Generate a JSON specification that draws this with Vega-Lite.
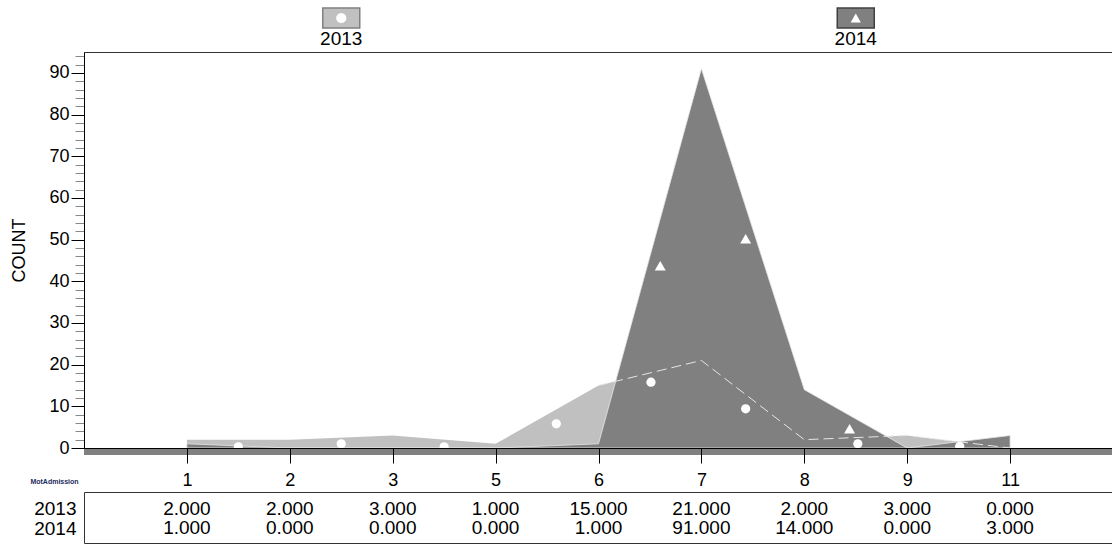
{
  "$schema": "https://vega.github.io/schema/vega-lite/v6.json",
  "padding": {"left": 10, "top": 0, "right": 0, "bottom": 0},
  "config": {
    "font": "Liberation Sans",
    "view": {"stroke": null},
    "axis": {"labelFont": "Liberation Sans", "titleFont": "Liberation Sans", "labelColor": "#000", "titleColor": "#000"},
    "text": {"font": "Liberation Sans"}
  },
  "datasets": {
    "counts": [
      {"pos": 1, "cat": "1", "year": "2013", "count": 2},
      {"pos": 2, "cat": "2", "year": "2013", "count": 2},
      {"pos": 3, "cat": "3", "year": "2013", "count": 3},
      {"pos": 4, "cat": "5", "year": "2013", "count": 1},
      {"pos": 5, "cat": "6", "year": "2013", "count": 15},
      {"pos": 6, "cat": "7", "year": "2013", "count": 21},
      {"pos": 7, "cat": "8", "year": "2013", "count": 2},
      {"pos": 8, "cat": "9", "year": "2013", "count": 3},
      {"pos": 9, "cat": "11", "year": "2013", "count": 0},
      {"pos": 1, "cat": "1", "year": "2014", "count": 1},
      {"pos": 2, "cat": "2", "year": "2014", "count": 0},
      {"pos": 3, "cat": "3", "year": "2014", "count": 0},
      {"pos": 4, "cat": "5", "year": "2014", "count": 0},
      {"pos": 5, "cat": "6", "year": "2014", "count": 1},
      {"pos": 6, "cat": "7", "year": "2014", "count": 91},
      {"pos": 7, "cat": "8", "year": "2014", "count": 14},
      {"pos": 8, "cat": "9", "year": "2014", "count": 0},
      {"pos": 9, "cat": "11", "year": "2014", "count": 3}
    ],
    "markers": [
      {"pos": 1.5, "year": "2013", "count": 0.3},
      {"pos": 2.5, "year": "2013", "count": 1},
      {"pos": 3.5, "year": "2013", "count": 0.3},
      {"pos": 4.59, "year": "2013", "count": 5.8},
      {"pos": 5.51, "year": "2013", "count": 15.8},
      {"pos": 6.43, "year": "2013", "count": 9.4},
      {"pos": 7.52, "year": "2013", "count": 1},
      {"pos": 8.51, "year": "2013", "count": 0.4},
      {"pos": 5.6, "year": "2014", "count": 43.7},
      {"pos": 6.43, "year": "2014", "count": 50.2},
      {"pos": 7.44, "year": "2014", "count": 4.6}
    ],
    "legend": [
      {"year": "2013"},
      {"year": "2014"}
    ]
  },
  "bounds": "flush",
  "spacing": 16,
  "vconcat": [
    {
      "width": 1029,
      "height": 36,
      "data": {"name": "legend"},
      "encoding": {
        "x": {"field": "year", "type": "nominal", "scale": {"type": "band", "domain": ["2013", "2014"], "paddingInner": 0, "paddingOuter": 0}, "axis": null}
      },
      "layer": [
        {
          "mark": {"type": "point", "shape": "M-1,-0.54H1V0.54H-1Z", "size": 1369, "filled": true, "strokeWidth": 1.5, "opacity": 1},
          "encoding": {
            "fill": {"field": "year", "type": "nominal", "scale": {"domain": ["2013", "2014"], "range": ["#c0c0c0", "#808080"]}, "legend": null},
            "stroke": {"field": "year", "type": "nominal", "scale": {"domain": ["2013", "2014"], "range": ["#808080", "#404040"]}, "legend": null}
          }
        },
        {
          "mark": {"type": "point", "filled": true, "color": "white", "size": 105, "opacity": 1},
          "encoding": {
            "shape": {"field": "year", "type": "nominal", "scale": {"domain": ["2013", "2014"], "range": ["circle", "triangle-up"]}, "legend": null}
          }
        },
        {
          "mark": {"type": "text", "dy": 21, "fontSize": 19, "baseline": "middle", "color": "#000"},
          "encoding": {"text": {"field": "year"}}
        }
      ]
    },
    {
      "bounds": "flush",
      "spacing": 44,
      "vconcat": [
        {
          "width": 1029,
          "height": 396,
          "view": {"stroke": "#333"},
          "data": {"name": "counts"},
          "layer": [
            {
              "transform": [{"filter": "datum.year === '2013'"}],
              "mark": {"type": "area", "color": "#c0c0c0", "opacity": 1},
              "encoding": {
                "x": {
                  "field": "pos", "type": "quantitative",
                  "scale": {"domain": [0, 10], "nice": false, "zero": false},
                  "axis": {
                    "values": [1, 2, 3, 4, 5, 6, 7, 8, 9],
                    "tickCount": 100,
                    "labelExpr": "['1','2','3','5','6','7','8','9','11'][datum.value - 1]",
                    "tickSize": 15, "tickColor": "#000", "domainColor": "#000",
                    "labelFontSize": 18, "labelPadding": 8, "labelFlush": false, "labelOverlap": false,
                    "grid": false,
                    "title": "MotAdmission", "titleFontSize": 7, "titleFontWeight": "bold", "titleColor": "#1c2b5c",
                    "titleX": -30, "titleY": 33, "titleAlign": "center", "titleBaseline": "middle",
                    "zindex": 1
                  }
                },
                "y": {
                  "field": "count", "type": "quantitative",
                  "scale": {"domain": [0, 95], "nice": false},
                  "axis": {
                    "values": [0, 2, 4, 6, 8, 10, 12, 14, 16, 18, 20, 22, 24, 26, 28, 30, 32, 34, 36, 38, 40, 42, 44, 46, 48, 50, 52, 54, 56, 58, 60, 62, 64, 66, 68, 70, 72, 74, 76, 78, 80, 82, 84, 86, 88, 90, 92, 94],
                    "tickCount": 100,
                    "labelExpr": "datum.value % 10 === 0 ? datum.label : ''",
                    "tickSize": {"condition": {"test": "datum.value % 10 === 0", "value": 13}, "value": 9},
                    "tickColor": {"condition": {"test": "datum.value % 10 === 0", "value": "#000"}, "value": "#888"},
                    "labelFontSize": 18, "labelPadding": 2, "labelOverlap": false, "labelFlush": false,
                    "title": "COUNT", "titleFontSize": 18, "titleFontWeight": "normal", "titlePadding": 20,
                    "grid": false, "domainColor": "#000", "zindex": 1
                  }
                }
              }
            },
            {
              "transform": [{"filter": "datum.year === '2014'"}],
              "mark": {"type": "area", "color": "#808080", "stroke": "#e6e6e6", "strokeWidth": 0.8, "opacity": 1},
              "encoding": {
                "x": {"field": "pos", "type": "quantitative"},
                "y": {"field": "count", "type": "quantitative"}
              }
            },
            {
              "transform": [{"filter": "datum.year === '2013' && datum.pos >= 5"}],
              "mark": {"type": "line", "color": "#e6e6e6", "strokeWidth": 1, "strokeDash": [10, 5]},
              "encoding": {
                "x": {"field": "pos", "type": "quantitative"},
                "y": {"field": "count", "type": "quantitative"}
              }
            },
            {
              "data": {"name": "markers"},
              "transform": [{"filter": "datum.year === '2013'"}],
              "mark": {"type": "point", "shape": "circle", "filled": true, "color": "white", "opacity": 1, "size": 85},
              "encoding": {
                "x": {"field": "pos", "type": "quantitative"},
                "y": {"field": "count", "type": "quantitative"}
              }
            },
            {
              "data": {"name": "markers"},
              "transform": [{"filter": "datum.year === '2014'"}],
              "mark": {"type": "point", "shape": "triangle-up", "filled": true, "color": "white", "opacity": 1, "size": 120},
              "encoding": {
                "x": {"field": "pos", "type": "quantitative"},
                "y": {"field": "count", "type": "quantitative"}
              }
            },
            {
              "mark": {"type": "rule", "color": "#808080", "strokeWidth": 7, "yOffset": 3.5},
              "encoding": {"y": {"datum": 0}}
            }
          ]
        },
        {
          "width": 1029,
          "height": 51,
          "view": {"stroke": "#333"},
          "data": {"name": "counts"},
          "mark": {"type": "text", "fontSize": 19, "baseline": "middle", "color": "#000", "dy": 1},
          "encoding": {
            "x": {"field": "pos", "type": "quantitative", "scale": {"domain": [0, 10], "nice": false, "zero": false}, "axis": null},
            "y": {"field": "year", "type": "nominal", "scale": {"type": "point", "padding": 0.84}, "axis": {"title": null, "ticks": false, "domain": false, "labelFontSize": 19, "labelPadding": 8, "labelOffset": 1, "labelColor": "#000"}},
            "text": {"field": "count", "type": "quantitative", "format": ".3f"}
          }
        }
      ]
    }
  ]
}
